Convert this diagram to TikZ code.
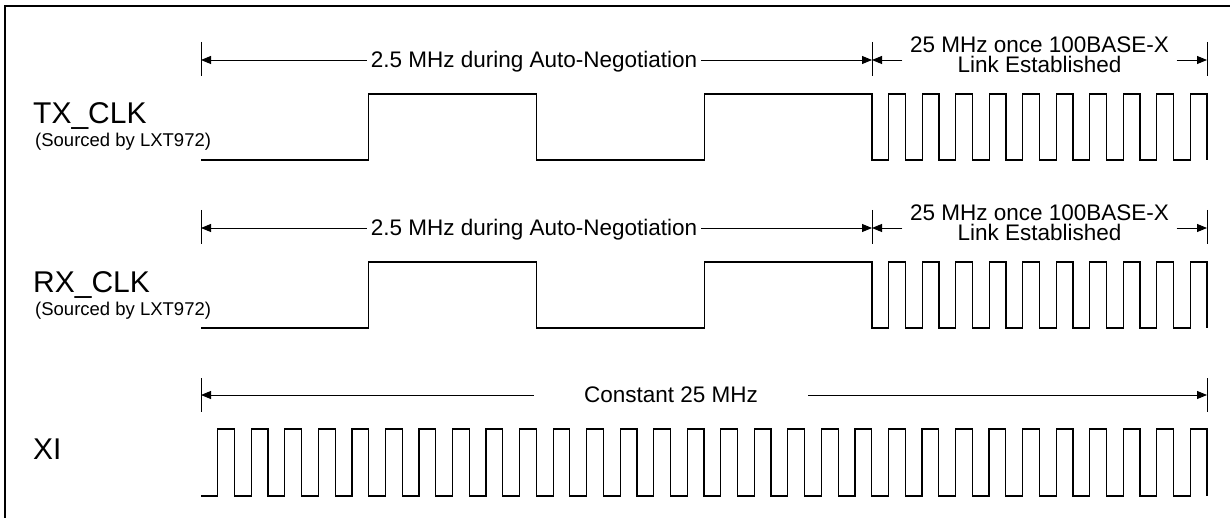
\documentclass[tikz,border=0pt]{standalone}
\usepackage{fontspec}
\setmainfont{Liberation Sans}
\usetikzlibrary{calc}
\usetikzlibrary{arrows.meta}
\usepackage{xcolor}

\tikzset{
  wave/.style={black, line width=1.2pt},
  dim/.style={black, line width=0.9pt},
  tip/.style={-{Triangle[length=10pt,width=8pt]}},
  lbl/.style={inner sep=0pt, font=\fontsize{22.5}{19.5}\selectfont},
  sig/.style={inner sep=0pt, anchor=base west, font=\fontsize{30}{30}\selectfont},
  src/.style={inner sep=0pt, anchor=base west, font=\fontsize{18.5}{18.5}\selectfont}
}

\begin{document}
\begin{tikzpicture}[x=1pt, y=-1pt]
\useasboundingbox (0,0) rectangle (1230,518);
\draw[line width=2pt] (5,518) -- (5,6) -- (1230,6);

\foreach \s/\dy in {TX/0, RX/168} {
  \begin{scope}[shift={(0,\dy)}]
    \coordinate (\s0) at (201,60);
    \coordinate (\s1) at (872,60);
    \coordinate (\s2) at (1207,60);
    \foreach \p in {0,1,2} \draw[dim] (\s\p) ++(0,-18) -- ++(0,34);
    \node[lbl, anchor=base, inner xsep=4pt] (slow\s) at (534,68) {2.5 MHz during Auto-Negotiation};
    \draw[dim, tip] (\s0 -| slow\s.west) -- (\s0);
    \draw[dim, tip] (\s0 -| slow\s.east) -- (\s1);
    \node[lbl, align=center, inner xsep=7.5pt] (fast\s) at (1039.5,55) {25 MHz once 100BASE-X\\Link Established};
    \draw[dim, tip] (\s1 -| fast\s.west) -- (\s1);
    \draw[dim, tip] (\s1 -| fast\s.east) -- (\s2);
    \draw[wave] (201,160) -| (368.75,94) -| (536.5,160) -| (704.25,94) -| (872,160)
      \foreach \k in {1,...,10} { -- ++(16.75,0) -- ++(0,-66) -- ++(16.75,0) -- ++(0,66) };
    \node[sig] (name\s) at (33,124) {\s\_CLK};
    \node[src] (src\s) at (35,147) {(Sourced by LXT972)};
  \end{scope}
}

\coordinate (XI0) at (201,395);
\coordinate (XI1) at (1207,395);
\foreach \p in {0,1} \draw[dim] (XI\p) ++(0,-17) -- ++(0,34);
\node[lbl, anchor=base, inner xsep=50pt] (const) at (671,402) {Constant 25 MHz};
\draw[dim, tip] (XI0 -| const.west) -- (XI0);
\draw[dim, tip] (XI0 -| const.east) -- (XI1);
\draw[wave] (201,496)
  \foreach \k in {1,...,30} { -- ++(16.767,0) -- ++(0,-67) -- ++(16.767,0) -- ++(0,67) };
\node[sig] (nameXI) at (33,459) {XI};
\end{tikzpicture}
\end{document}
